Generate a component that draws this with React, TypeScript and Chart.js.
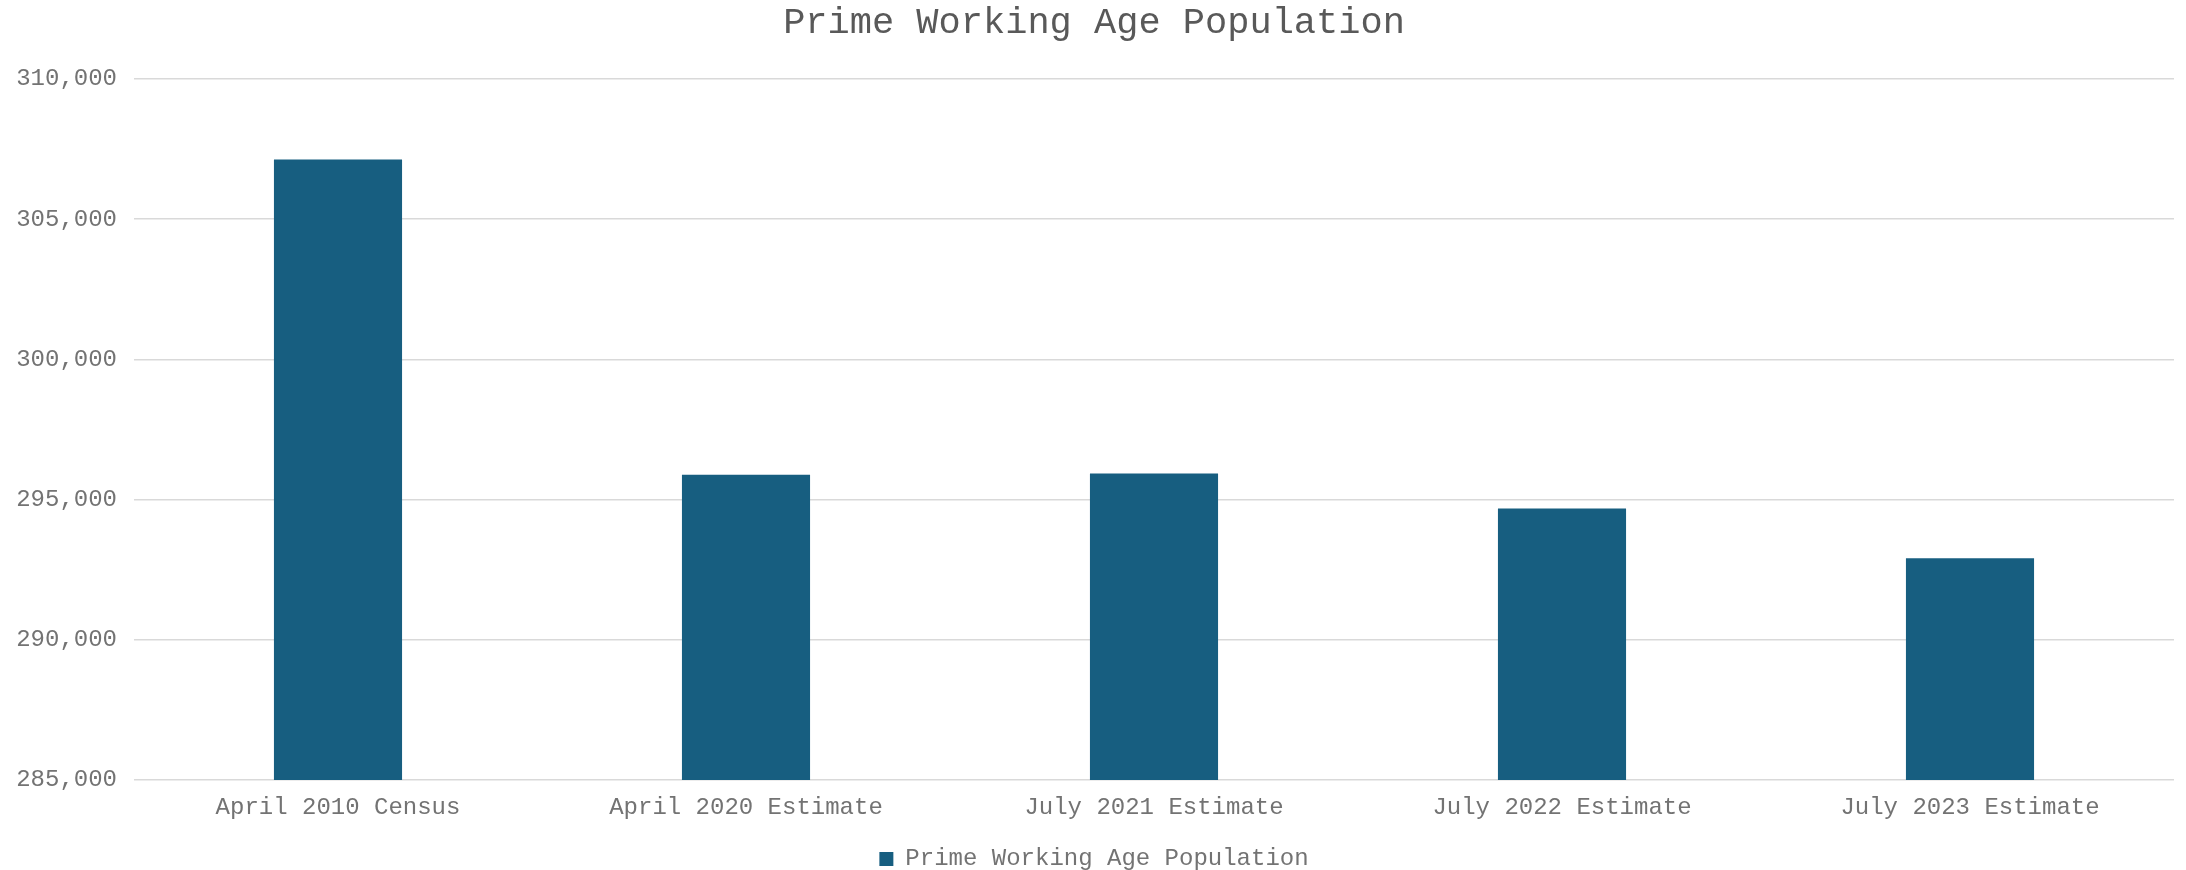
import React, { useEffect, useRef } from "react";
import { Chart, registerables } from "chart.js";

Chart.register(...registerables);

const categories: string[] = [
  "April 2010 Census",
  "April 2020 Estimate",
  "July 2021 Estimate",
  "July 2022 Estimate",
  "July 2023 Estimate",
];
const populationValues: number[] = [307125, 295885, 295930, 294680, 292910];
const seriesName = "Prime Working Age Population";
const chartTitle = "Prime Working Age Population";
const yMin = 285000;
const yMax = 310000;
const yStep = 5000;

const FONT = "'Liberation Mono', 'Courier New', monospace";

export default function App() {
  const ref = useRef<HTMLCanvasElement | null>(null);

  useEffect(() => {
    if (!ref.current) return;
    const chart = new Chart(ref.current, {
      type: "bar",
      data: {
        labels: categories,
        datasets: [
          {
            label: seriesName,
            data: populationValues,
            backgroundColor: "#175E80",
            borderWidth: 0,
            barPercentage: 0.314,
            categoryPercentage: 1,
          },
        ],
      },
      options: {
        responsive: false,
        animation: false,
        layout: { padding: { left: 14, right: 12, top: 0, bottom: -11 } },
        plugins: {
          title: {
            display: true,
            text: chartTitle,
            color: "#595959",
            font: { family: FONT, size: 37, weight: "normal" },
            padding: { top: 1, bottom: 33.6 },
          },
          legend: {
            display: true,
            position: "bottom",
            labels: {
              color: "#737373",
              font: { family: FONT, size: 24 },
              boxWidth: 14,
              boxHeight: 14,
              padding: 1,
            },
          },
          tooltip: { enabled: false },
        },
        scales: {
          x: {
            grid: { display: false, drawTicks: false },
            border: { display: false },
            ticks: {
              color: "#737373",
              font: { family: FONT, size: 24 },
              padding: 13,
              maxRotation: 0,
            },
            afterFit: (scale: any) => {
              scale.height = 66;
            },
          },
          y: {
            min: yMin,
            max: yMax,
            grid: { color: "#d9d9d9", lineWidth: 1.5, drawTicks: false },
            border: { display: false },
            ticks: {
              stepSize: yStep,
              color: "#737373",
              font: { family: FONT, size: 24 },
              padding: 17,
              callback: (v: any) => Number(v).toLocaleString("en-US"),
            },
            afterFit: (scale: any) => {
              scale.width = 120;
            },
          },
        },
      },
    });
    return () => chart.destroy();
  }, []);

  return (
    <div style={{ position: "absolute", left: 0, top: 0, width: 2186, height: 870, background: "#fff" }}>
      <canvas ref={ref} width={2186} height={870} style={{ display: "block" }} />
    </div>
  );
}
